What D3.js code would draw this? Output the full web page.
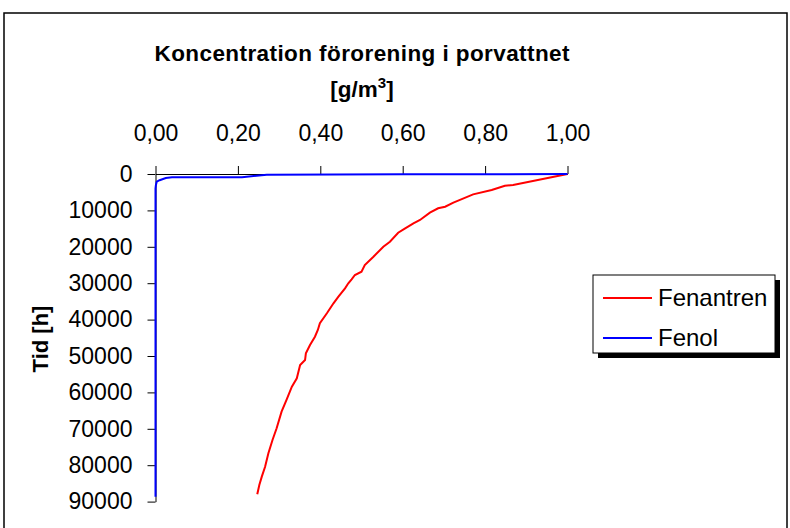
<!DOCTYPE html>
<html>
<head>
<meta charset="utf-8">
<script src="https://cdn.jsdelivr.net/npm/d3@7"></script>
<style>
  body { margin: 0; background: #fff; }
  svg { display: block; font-family: "Liberation Sans", Arial, sans-serif; }
</style>
</head>
<body>
<div id="chart"></div>
<script>
// Fenantren: koncentration [g/m3] och tid [h]
var fenantrenConc = [1.00, 0.868, 0.848, 0.816, 0.771, 0.723, 0.703, 0.686, 0.666, 0.642, 0.626, 0.606, 0.589, 0.569, 0.553,
  0.529, 0.508, 0.500, 0.484, 0.476, 0.468, 0.460, 0.444, 0.432, 0.424, 0.416, 0.399, 0.394, 0.387, 0.375,
  0.365, 0.363, 0.351, 0.343, 0.331, 0.318, 0.306, 0.294, 0.284, 0.274, 0.266, 0.258, 0.252, 0.247]
var fenantrenTid = [0, 3020, 3210, 4400, 5600, 7880, 8980, 9420, 10630, 12640, 13540, 14920, 16130, 18600, 19970,
  22720, 25000, 26840, 27750, 28930, 30030, 31400, 33710, 35520, 36890, 38270, 41010, 42850, 44690, 46970,
  49250, 51100, 52470, 56120, 58430, 62080, 65300, 69860, 73070, 76730, 80410, 83150, 85430, 88000]

// Fenol
var fenolConc = [1.00, 0.80, 0.60, 0.27, 0.21, 0.04, 0.025, 0.01, 0.003, 0.001, 0.0, 0.0]
var fenolTid = [0, 50, 100, 200, 880, 920, 1100, 1700, 2100, 3000, 4000, 88700]

var xTicks = [0, 0.2, 0.4, 0.6, 0.8, 1.0]
var yTicks = [0, 10000, 20000, 30000, 40000, 50000, 60000, 70000, 80000, 90000]

var seriesNames = ["Fenantren", "Fenol"]
var seriesColors = ["#ff0000", "#0000ff"]

var width = 790, height = 528

var svg = d3.select("#chart").append("svg")
  .attr("width", width)
  .attr("height", height)

// chart frame
svg.append("rect")
  .attr("x", 4).attr("y", 13)
  .attr("width", 783).attr("height", 540)
  .attr("fill", "#fff")
  .attr("stroke", "#000")
  .attr("stroke-width", 1.5)

var x = d3.scaleLinear().domain([0, 1]).range([155.5, 567.5])
var y = d3.scaleLinear().domain([0, 90000]).range([174, 501.6])

// title
svg.append("text")
  .attr("x", 362).attr("y", 61)
  .attr("text-anchor", "middle")
  .attr("font-size", 22.5)
  .attr("font-weight", "bold")
  .attr("textLength", 415)
  .attr("lengthAdjust", "spacing")
  .text("Koncentration förorening i porvattnet")

var sub = svg.append("text")
  .attr("x", 362).attr("y", 97)
  .attr("text-anchor", "middle")
  .attr("font-size", 22.5)
  .attr("font-weight", "bold")
sub.append("tspan").text("[g/m")
sub.append("tspan").attr("font-size", 15).attr("dy", -9).text("3")
sub.append("tspan").attr("dy", 9).text("]")

// axes
var fmt = function(d) { return d3.format(".2f")(d).replace(".", ",") }

svg.append("g")
  .attr("transform", "translate(0," + y(0) + ")")
  .call(d3.axisTop(x).tickValues(xTicks).tickFormat(fmt).tickSize(8).tickSizeOuter(0).tickPadding(25))

svg.append("g")
  .attr("transform", "translate(" + x(0) + ",0)")
  .call(d3.axisLeft(y).tickValues(yTicks).tickFormat(d3.format("d")).tickSize(8).tickSizeOuter(0).tickPadding(15))

svg.selectAll(".tick text")
  .attr("font-size", 23)
  .attr("font-family", "Liberation Sans, Arial, sans-serif")
  .attr("fill", "#000")
svg.selectAll(".domain, .tick line").attr("stroke", "#000")

// y label
svg.append("text")
  .attr("transform", "translate(48,339) rotate(-90)")
  .attr("text-anchor", "middle")
  .attr("font-size", 22)
  .attr("font-weight", "bold")
  .text("Tid [h]")

// lines
var line = d3.line()
  .x(function(d) { return x(d[0]) })
  .y(function(d) { return y(d[1]) })

var fenantren = fenantrenConc.map(function(c, i) { return [c, fenantrenTid[i]] })
var fenol = fenolConc.map(function(c, i) { return [c, fenolTid[i]] })

svg.selectAll("path.series")
  .data([fenantren, fenol])
  .enter()
  .append("path")
  .attr("class", "series")
  .attr("d", line)
  .attr("fill", "none")
  .attr("stroke", function(d, i) { return seriesColors[i] })
  .attr("stroke-width", 2)

// legend
var legend = svg.append("g").attr("transform", "translate(593,275)")
legend.append("rect")
  .attr("x", 5).attr("y", 5)
  .attr("width", 182).attr("height", 78)
  .attr("fill", "#000")
legend.append("rect")
  .attr("x", 0).attr("y", 0)
  .attr("width", 182).attr("height", 78)
  .attr("fill", "#fff")
  .attr("stroke", "#000")
  .attr("stroke-width", 1)

var items = legend.selectAll("g.item")
  .data(seriesNames)
  .enter()
  .append("g")
  .attr("class", "item")
  .attr("transform", function(d, i) { return "translate(0," + (23 + i * 40) + ")" })

items.append("line")
  .attr("x1", 10).attr("x2", 59)
  .attr("stroke", function(d, i) { return seriesColors[i] })
  .attr("stroke-width", 2)

items.append("text")
  .attr("x", 65).attr("y", 8)
  .attr("font-size", 24)
  .text(function(d) { return d })
</script>
</body>
</html>
